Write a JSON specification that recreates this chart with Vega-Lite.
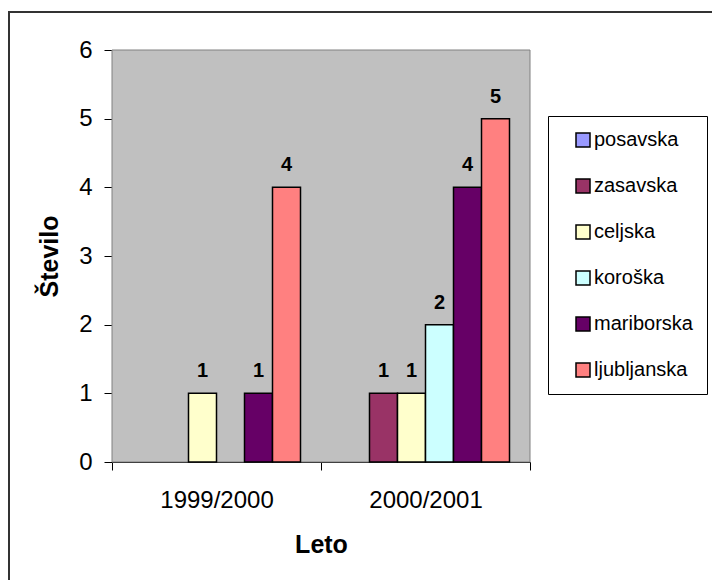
{
  "$schema": "https://vega.github.io/schema/vega-lite/v6.json",
  "autosize": "none",
  "padding": {"left": 9, "top": 12, "right": 0, "bottom": 0},
  "width": 713,
  "height": 578,
  "background": "white",
  "config": {
    "view": {"stroke": "#333333", "strokeWidth": 2, "fill": "white"},
    "font": "Liberation Sans"
  },
  "datasets": {
    "podatki": [
      {"Leto": "1999/2000", "regija": "posavska", "Stevilo": 0},
      {"Leto": "1999/2000", "regija": "zasavska", "Stevilo": 0},
      {"Leto": "1999/2000", "regija": "celjska", "Stevilo": 1},
      {"Leto": "1999/2000", "regija": "koroška", "Stevilo": 0},
      {"Leto": "1999/2000", "regija": "mariborska", "Stevilo": 1},
      {"Leto": "1999/2000", "regija": "ljubljanska", "Stevilo": 4},
      {"Leto": "2000/2001", "regija": "posavska", "Stevilo": 0},
      {"Leto": "2000/2001", "regija": "zasavska", "Stevilo": 1},
      {"Leto": "2000/2001", "regija": "celjska", "Stevilo": 1},
      {"Leto": "2000/2001", "regija": "koroška", "Stevilo": 2},
      {"Leto": "2000/2001", "regija": "mariborska", "Stevilo": 4},
      {"Leto": "2000/2001", "regija": "ljubljanska", "Stevilo": 5}
    ],
    "ozadje": [{"od": 0, "do": 1, "spodaj": 0, "zgoraj": 6}]
  },
  "resolve": {"scale": {"x": "independent"}, "axis": {"x": "independent"}},
  "layer": [
    {
      "data": {"name": "ozadje"},
      "mark": {"type": "rect", "fill": "#C0C0C0", "stroke": "#808080", "strokeWidth": 1},
      "encoding": {
        "x": {"field": "od", "type": "quantitative", "scale": {"domain": [0, 1], "range": [103, 521], "nice": false, "zero": false}, "axis": null},
        "x2": {"field": "do"},
        "y": {
          "field": "spodaj",
          "type": "quantitative",
          "scale": {"domain": [0, 6], "range": [450, 38], "nice": false, "zero": false},
          "axis": {
            "title": "Število",
            "offset": -103,
            "values": [0, 1, 2, 3, 4, 5, 6],
            "grid": false,
            "labelFont": "Liberation Sans",
            "labelFontSize": 24,
            "labelColor": "black",
            "labelPadding": 12,
            "tickSize": 8,
            "tickColor": "black",
            "domainColor": "black",
            "titleFont": "Liberation Sans",
            "titleFontSize": 25,
            "titleFontWeight": "bold",
            "titleColor": "black",
            "titlePadding": 16
          }
        },
        "y2": {"field": "zgoraj"}
      }
    },
    {
      "data": {"name": "podatki"},
      "encoding": {
        "x": {
          "field": "Leto",
          "type": "nominal",
          "scale": {"range": [103, 521], "paddingInner": 0, "paddingOuter": 0},
          "axis": {
            "title": "Leto",
            "offset": -128,
            "labelAngle": 0,
            "labelFont": "Liberation Sans",
            "labelFontSize": 24,
            "labelColor": "black",
            "labelPadding": 18,
            "tickBand": "extent",
            "tickSize": 8,
            "tickColor": "black",
            "domainColor": "black",
            "titleFont": "Liberation Sans",
            "titleFontSize": 25,
            "titleFontWeight": "bold",
            "titleColor": "black",
            "titlePadding": 20
          }
        },
        "xOffset": {
          "field": "regija",
          "type": "nominal",
          "scale": {"domain": ["posavska", "zasavska", "celjska", "koroška", "mariborska", "ljubljanska"], "paddingInner": 0, "paddingOuter": 0.732}
        },
        "y": {
          "field": "Stevilo",
          "type": "quantitative",
          "axis": {
            "title": "Število",
            "offset": -103,
            "values": [0, 1, 2, 3, 4, 5, 6],
            "grid": false,
            "labelFont": "Liberation Sans",
            "labelFontSize": 24,
            "labelColor": "black",
            "labelPadding": 12,
            "tickSize": 8,
            "tickColor": "black",
            "domainColor": "black",
            "titleFont": "Liberation Sans",
            "titleFontSize": 25,
            "titleFontWeight": "bold",
            "titleColor": "black",
            "titlePadding": 16
          }
        }
      },
      "layer": [
        {
          "transform": [{"filter": "datum.Stevilo > 0"}],
          "mark": {"type": "bar", "stroke": "black", "strokeWidth": 1.5},
          "encoding": {
            "color": {
              "field": "regija",
              "type": "nominal",
              "scale": {
                "domain": ["posavska", "zasavska", "celjska", "koroška", "mariborska", "ljubljanska"],
                "range": ["#9999FF", "#993366", "#FFFFCC", "#CCFFFF", "#660066", "#FF8080"]
              },
              "legend": {
                "orient": "none",
                "legendX": 539,
                "legendY": 104,
                "title": null,
                "strokeColor": "black",
                "fillColor": "white",
                "padding": 14,
                "symbolOffset": 11,
                "symbolType": "square",
                "symbolSize": 196,
                "symbolStrokeColor": "black",
                "symbolStrokeWidth": 1.5,
                "labelFont": "Liberation Sans",
                "labelFontSize": 20,
                "labelColor": "black",
                "labelOffset": 1,
                "labelExpr": "datum.label + '              '",
                "rowPadding": 26
              }
            }
          }
        },
        {
          "transform": [{"filter": "datum.Stevilo > 0"}],
          "mark": {"type": "text", "font": "Liberation Sans", "fontSize": 20, "fontWeight": "bold", "baseline": "alphabetic", "dy": -16, "color": "black"},
          "encoding": {"text": {"field": "Stevilo", "type": "quantitative"}}
        }
      ]
    }
  ]
}
